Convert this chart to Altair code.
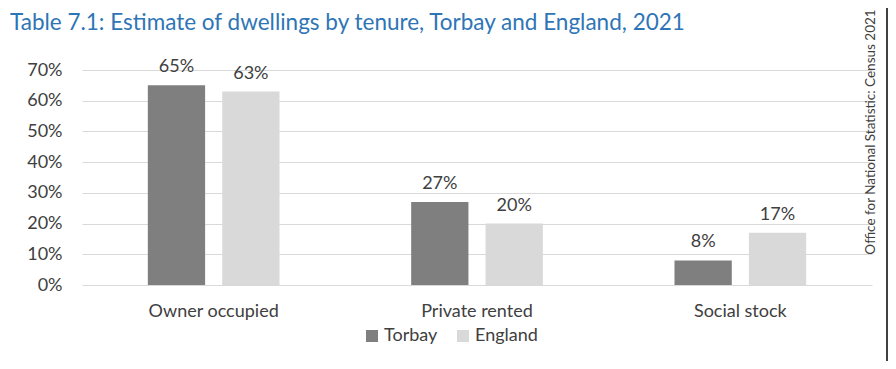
import altair as alt
import pandas as pd

categories = ["Owner occupied", "Private rented", "Social stock"]
areas = ["Torbay", "England"]
torbay = [0.65, 0.27, 0.08]
england = [0.63, 0.20, 0.17]
y_ticks = [0.0, 0.1, 0.2, 0.3, 0.4, 0.5, 0.6, 0.7]
area_colors = ["#7f7f7f", "#d9d9d9"]
title_text = "Table 7.1: Estimate of dwellings by tenure, Torbay and England, 2021"
source_text = "Office for National Statistic: Census 2021"

rows = []
for c, t, e in zip(categories, torbay, england):
    rows.append({"tenure": c, "area": "Torbay", "share": t})
    rows.append({"tenure": c, "area": "England", "share": e})
df = pd.DataFrame(rows)

FONT = "Lato"
TXT = "#404040"
FS = 18

x_enc = alt.X(
    "tenure:N", sort=categories,
    scale=alt.Scale(paddingInner=0.5, paddingOuter=0.25),
    axis=alt.Axis(title=None, labelAngle=0, labelFontSize=FS, labelColor=TXT,
                  labelPadding=17, ticks=False, domain=False, labelFont=FONT),
)
xo_enc = alt.XOffset("area:N", sort=areas, scale=alt.Scale(paddingInner=0.23, paddingOuter=0))
y_enc = alt.Y(
    "share:Q",
    scale=alt.Scale(domain=[0, 0.7], nice=False),
    axis=alt.Axis(title=None, values=y_ticks, format=".0%", labelFontSize=FS,
                  labelColor=TXT, labelPadding=20, ticks=False, domain=False,
                  grid=True, gridColor="#d9d9d9", gridWidth=1, labelFont=FONT),
)

bars = alt.Chart(df).mark_bar().encode(
    x=x_enc, xOffset=xo_enc, y=y_enc,
    color=alt.Color(
        "area:N", sort=areas,
        scale=alt.Scale(domain=areas, range=area_colors),
        legend=alt.Legend(title=None, orient="none", direction="horizontal",
                          legendX=281, legendY=257, symbolType="square",
                          symbolSize=144, symbolStrokeWidth=0, labelFontSize=FS,
                          labelColor=TXT, labelFont=FONT, columnPadding=16,
                          labelOffset=3),
    ),
)

labels = alt.Chart(df).mark_text(
    baseline="bottom", dy=-9, fontSize=FS, font=FONT, color=TXT
).encode(x=x_enc, xOffset=xo_enc, y=y_enc, text=alt.Text("share:Q", format=".0%"))

title = alt.Chart(pd.DataFrame({"t": [title_text]})).mark_text(
    align="left", baseline="alphabetic", fontSize=22.5, font=FONT, color="#2e75b6"
).encode(x=alt.value(-72), y=alt.value(-40), text="t:N")

source = alt.Chart(pd.DataFrame({"t": [source_text]})).mark_text(
    angle=270, fontSize=13.5, font=FONT, color=TXT, baseline="middle", align="center"
).encode(x=alt.value(789), y=alt.value(62), text="t:N")

border = alt.Chart(pd.DataFrame({"t": [0]})).mark_rule(color="#000000", strokeWidth=1.5).encode(
    x=alt.value(805), y=alt.value(-62), y2=alt.value(291)
)

chart = alt.layer(bars, labels, title, source, border).properties(
    width=790, height=215,
    autosize=alt.AutoSizeParams(type="none"),
    padding={"left": 74, "top": 62, "right": 16, "bottom": 76},
).configure_view(stroke=None)

chart.save("out.html", embed_options={"renderer": "svg", "actions": False})
